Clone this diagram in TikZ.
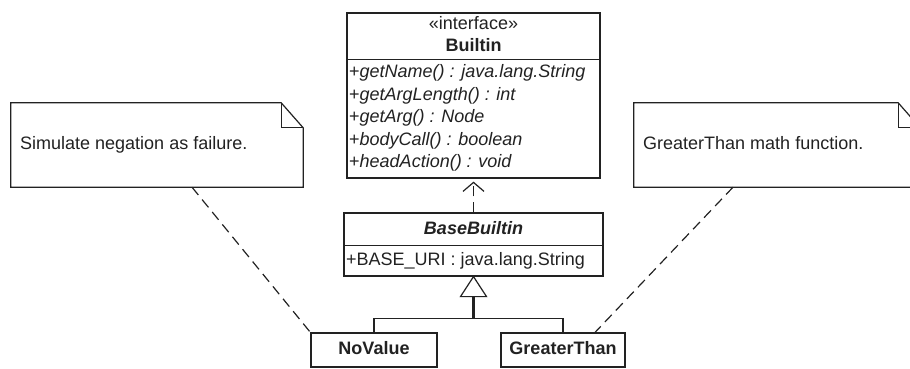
\documentclass[tikz,border=0pt]{standalone}
\usepackage{fontspec}
\setmainfont{Liberation Sans}
\usetikzlibrary{arrows.meta}
\definecolor{ink}{HTML}{222222}
\newcommand\dgfont{\fontsize{18}{22}\selectfont}
\begin{document}
\begin{tikzpicture}[x=1pt,y=-1pt,
  boxline/.style={draw=ink, line width=1.2pt},
  classbox/.style={boxline, fill=white, inner sep=0pt},
  txt/.style={inner sep=0pt, text=ink, text height=13pt, text depth=4pt, font=\dgfont},
  bold/.style={txt, font=\dgfont\bfseries},
  bolditalic/.style={txt, font=\dgfont\bfseries\itshape},
  member/.style={txt, anchor=west},
  notebox/.style={inner sep=0pt, minimum height=84pt},
  noteline/.style={boxline, fill=white, line join=miter},
  anchorline/.style={draw=ink, line width=1.2pt, dash pattern=on 10pt off 6pt},
  depline/.style={draw=ink, line width=1.2pt, dash pattern=on 10pt off 6pt,
    -{Straight Barb[length=9pt,width=21pt,line width=1.2pt]}},
]
\useasboundingbox (0,0) rectangle (910,368);
\clip (0,0) rectangle (910,368);

% interface Builtin
\node[classbox, minimum width=253pt, minimum height=165pt] (Builtin) at (473.5,95.5) {};
\draw[boxline] ([yshift=-47pt]Builtin.north west) -- ([yshift=-47pt]Builtin.north east);
\node[txt] (stereo) at (473.5,25) {«interface»};
\node[bold] (bname) at (473.5,47) {Builtin};
\node[member] (op1) at (349,73) {+\textit{getName() : java.lang.String}};
\node[member] (op2) at (349,95.5) {+\textit{getArgLength() : int}};
\node[member] (op3) at (349,118) {+\textit{getArg() : Node}};
\node[member] (op4) at (349,140.5) {+\textit{bodyCall() : boolean}};
\node[member] (op5) at (349,163) {+\textit{headAction() : void}};

% abstract class BaseBuiltin
\node[classbox, minimum width=259pt, minimum height=63pt] (BaseBuiltin) at (473.5,244.5) {};
\draw[boxline] ([yshift=-33pt]BaseBuiltin.north west) -- ([yshift=-33pt]BaseBuiltin.north east);
\node[bolditalic] (bbname) at (473.5,229.5) {BaseBuiltin};
\node[member] (attr1) at (346,261) {+BASE\_URI : java.lang.String};

% concrete builtins
\node[classbox, minimum width=126pt, minimum height=34pt] (NoValue) at (374,350) {};
\node[bold] (nvname) at (NoValue.center) {NoValue};
\node[classbox, minimum width=124pt, minimum height=34pt] (GreaterThan) at (563,350) {};
\node[bold] (gtname) at (GreaterThan.center) {GreaterThan};

% realization of the interface
\draw[depline, shorten >=3pt] (BaseBuiltin.north) -- (Builtin.south);

% generalization
\coordinate (gbase) at ([yshift=-20pt]BaseBuiltin.south);
\coordinate (gjoin) at ([yshift=-42pt]BaseBuiltin.south);
\draw[boxline] (NoValue.north) |- (gjoin) -| (GreaterThan.north);
\draw[draw=ink, line width=2.6pt] (gjoin) -- (gbase);
\draw[boxline, fill=white, line join=miter] (BaseBuiltin.south) -- ++(-13,20) -- ++(26,0) -- cycle;

% notes
\node[notebox, minimum width=292pt] (noteL) at (157,145) {};
\draw[noteline] (noteL.south west) -- (noteL.north west) -- ([xshift=-22pt]noteL.north east)
  -- ([yshift=-25pt]noteL.north east) -- (noteL.south east) -- cycle;
\draw[boxline] ([xshift=-22pt]noteL.north east) |- ([yshift=-25pt]noteL.north east);
\node[txt, anchor=west] (noteLtext) at (20,145) {Simulate negation as failure.};

\node[notebox, minimum width=286pt] (noteR) at (777,145) {};
\draw[noteline] (noteR.south west) -- (noteR.north west) -- ([xshift=-22pt]noteR.north east)
  -- ([yshift=-25pt]noteR.north east) -- (noteR.south east) -- cycle;
\draw[boxline] ([xshift=-22pt]noteR.north east) |- ([yshift=-25pt]noteR.north east);
\node[txt, anchor=west] (noteRtext) at (643,145) {GreaterThan math function.};

% note anchors
\draw[anchorline] ([xshift=35pt]noteL.south) -- (NoValue.north west);
\draw[anchorline] ([xshift=-44pt]noteR.south) -- ([xshift=32pt]GreaterThan.north);
\end{tikzpicture}
\end{document}
